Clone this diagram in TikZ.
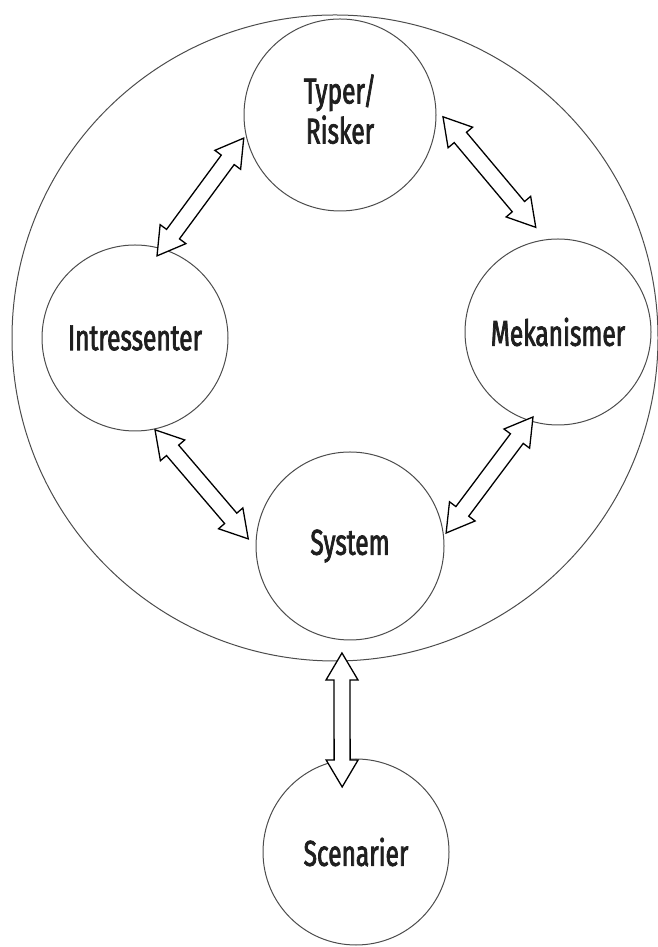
\documentclass[tikz,border=0pt]{standalone}
\usepackage{fontspec}
\newfontfamily\sirkelfont{Fira Sans}[FakeStretch=0.68,FakeBold=2]
\usetikzlibrary{calc}
% hollow double arrow between two points
\newcommand{\dubbelpil}[2]{%
  \draw[pil] let \p1=(#1), \p2=(#2),
      \n1={atan2(\y2-\y1,\x2-\x1)}, \n2={veclen(\x2-\x1,\y2-\y1)} in
    (\p1) -- ++($(\n1:27pt)+(\n1+90:16pt)$) -- ++(\n1-90:8pt)
    -- ++(\n1:\n2-54pt) -- ++(\n1+90:8pt)
    -- ++($(\n1:27pt)+(\n1-90:16pt)$) -- ++($(\n1+180:27pt)+(\n1-90:16pt)$)
    -- ++(\n1+90:8pt) -- ++(\n1+180:\n2-54pt) -- ++(\n1-90:8pt) -- cycle;}

\begin{document}
\begin{tikzpicture}[x=1pt,y=1pt,
    sirkel/.style={circle,draw=black!70,line width=1pt,minimum size=#1,
      inner sep=0pt,outer sep=0pt,align=center,text=black!88,
      font=\fontsize{36}{40}\selectfont\sirkelfont},
    pil/.style={draw=black,fill=white,line width=1.3pt,line join=miter}]
  \useasboundingbox (0,0) rectangle (658,947);
  \node[sirkel=646pt] (ytre) at (335,609) {};
  \node[sirkel=192pt] (typ) at (340,832)
    {\raisebox{10pt}{\begin{tabular}{@{}c@{}}Typer/\\Risker\end{tabular}}};
  \node[sirkel=186pt] (int) at (135,609) {Intressenter};
  \node[sirkel=186pt] (mek) at (558,615) {Mekanismer};
  \node[sirkel=188pt] (sys) at (350,401) {System};
  \node[sirkel=186pt] (sce) at (356,95) {Scenarier};
  % arrows
  \dubbelpil{$(typ)+(193.5:99)$}{$(int)+(75:85)$}
  \dubbelpil{$(typ)+(-1:103)$}{$(mek)+(102:107)$}
  \dubbelpil{$(int)+(-77.7:94)$}{$(sys)+(176:102)$}
  \dubbelpil{$(mek)+(-106.4:88.6)$}{$(sys)+(7.7:97)$}
  \dubbelpil{$(sys)+(-94.3:107.3)$}{$(sce)+(102:66.5)$}
\end{tikzpicture}
\end{document}
